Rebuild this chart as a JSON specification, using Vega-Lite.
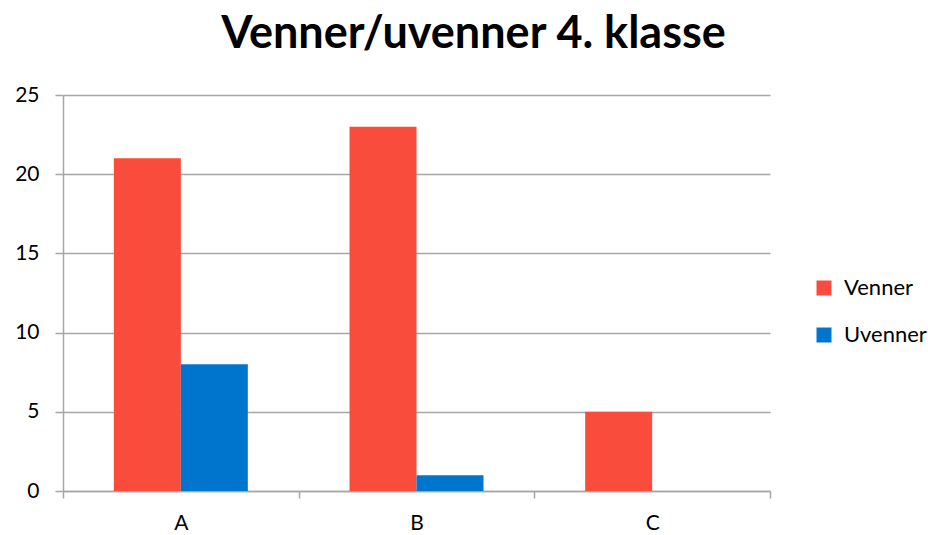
{
  "$schema": "https://vega.github.io/schema/vega-lite/v6.json",
  "width": 707,
  "height": 396,
  "autosize": {"type": "none"},
  "padding": {"left": 63, "top": 95, "right": 158, "bottom": 44},
  "background": "white",
  "title": {
    "text": "Venner/uvenner 4. klasse",
    "font": "Lato",
    "fontSize": 45,
    "fontWeight": "bold",
    "color": "#000000",
    "anchor": "middle",
    "dx": 57,
    "offset": 27
  },
  "data": {
    "values": [
      {"klasse": "A", "serie": "Venner", "antall": 21},
      {"klasse": "A", "serie": "Uvenner", "antall": 8},
      {"klasse": "B", "serie": "Venner", "antall": 23},
      {"klasse": "B", "serie": "Uvenner", "antall": 1},
      {"klasse": "C", "serie": "Venner", "antall": 5},
      {"klasse": "C", "serie": "Uvenner", "antall": 0}
    ]
  },
  "mark": {"type": "bar"},
  "encoding": {
    "x": {
      "field": "klasse",
      "type": "nominal",
      "scale": {"paddingInner": 0, "paddingOuter": 0},
      "axis": {
        "title": null,
        "labelAngle": 0,
        "labelFont": "Lato",
        "labelFontSize": 21,
        "labelColor": "#000000",
        "labelPadding": 14,
        "tickBand": "extent",
        "tickSize": 7,
        "tickColor": "#A6A6A6",
        "tickWidth": 1.5,
        "domainColor": "#A6A6A6",
        "domainWidth": 1.5,
        "grid": false
      }
    },
    "xOffset": {
      "field": "serie",
      "type": "nominal",
      "sort": ["Venner", "Uvenner"],
      "scale": {"paddingInner": 0, "paddingOuter": 0.759}
    },
    "y": {
      "field": "antall",
      "type": "quantitative",
      "scale": {"domain": [0, 25], "nice": false},
      "axis": {
        "title": null,
        "values": [0, 5, 10, 15, 20, 25],
        "labelFont": "Lato",
        "labelFontSize": 21,
        "labelColor": "#000000",
        "labelPadding": 16,
        "tickSize": 8,
        "tickColor": "#A6A6A6",
        "tickWidth": 1.5,
        "domainColor": "#A6A6A6",
        "domainWidth": 1.5,
        "grid": true,
        "gridColor": "#A6A6A6",
        "gridWidth": 1.5
      }
    },
    "color": {
      "field": "serie",
      "type": "nominal",
      "sort": ["Venner", "Uvenner"],
      "scale": {"domain": ["Venner", "Uvenner"], "range": ["#F94C3C", "#0075CE"]},
      "legend": {
        "title": null,
        "orient": "none",
        "legendX": 750,
        "legendY": 182,
        "symbolType": "square",
        "symbolSize": 225,
        "symbolStrokeWidth": 0,
        "labelFont": "Lato",
        "labelFontSize": 22,
        "labelColor": "#000000",
        "labelOffset": 9,
        "rowPadding": 25
      }
    }
  },
  "config": {
    "view": {"stroke": null}
  }
}
